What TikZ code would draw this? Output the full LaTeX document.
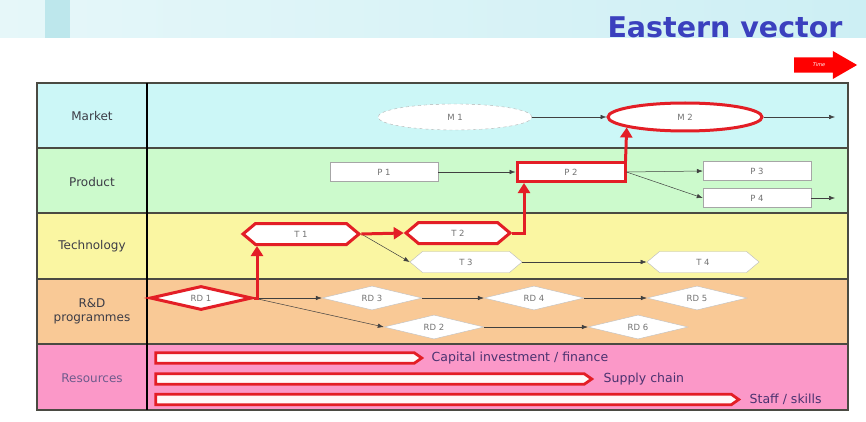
\documentclass[tikz,border=0pt]{standalone}
\usepackage{fontspec}
\setmainfont{DejaVu Sans}
\usetikzlibrary{positioning, arrows.meta, shapes.geometric, shapes.symbols, shapes.arrows}

\definecolor{marketbg}{HTML}{CCF7F7}
\definecolor{productbg}{HTML}{CCFACC}
\definecolor{techbg}{HTML}{FAF6A2}
\definecolor{rdbg}{HTML}{F9C996}
\definecolor{resbg}{HTML}{FB98C8}
\definecolor{hotred}{HTML}{E31E26}
\definecolor{titleblue}{HTML}{3B40BE}
\definecolor{bandcyan}{HTML}{CDEFF4}
\definecolor{stripcyan}{HTML}{BDE7EC}
\definecolor{gridline}{HTML}{4A4A42}
\definecolor{labelgray}{HTML}{3C3C46}
\definecolor{respurple}{HTML}{4A3270}

\begin{document}
\begin{tikzpicture}[x=1pt, y=-1pt,
    every node/.style={font=\fontsize{8.5}{10}\selectfont, text=black!55},
    rowlabel/.style={font=\fontsize{12}{14}\selectfont, text=labelgray, align=center},
    reslabel/.style={font=\fontsize{12.5}{14}\selectfont, text=respurple, anchor=west},
    ovalbox/.style={ellipse, draw=gray!60, fill=white, minimum width=154pt, minimum height=26pt, inner sep=0pt},
    prodbox/.style={rectangle, draw=gray!70, fill=white, minimum width=108pt, minimum height=19pt, inner sep=0pt},
    techbox/.style={signal, signal to=west and east, signal pointer angle=80, draw=gray!55, fill=white, minimum width=112pt, minimum height=21pt, inner sep=0pt},
    rdbox/.style={diamond, aspect=4, draw=gray!50, fill=white, minimum width=100pt, minimum height=24pt, inner sep=0pt},
    hot/.style={draw=hotred, line width=3pt},
    resarrow/.style={signal, signal to=east, signal pointer angle=70, draw=hotred, line width=2.8pt, fill=white!92!pink, minimum height=10.5pt, inner sep=0pt},
    link/.style={draw=black!75, line width=0.5pt, -{Latex[length=6pt, width=4.5pt]}},
    redlink/.style={draw=hotred, line width=3pt, -{Triangle[length=10pt, width=12pt]}}
]
\useasboundingbox (0,0) rectangle (866,422);

% background band and title
\fill[white] (0,0) rectangle (866,422);
\shade[left color=bandcyan!50, right color=bandcyan] (0,0) rectangle (866,38);
\fill[stripcyan] (45,0) rectangle (70,38);
\node[font=\bfseries\fontsize{28.5}{30}\selectfont, text=titleblue, anchor=east] (title) at (846,27) {Eastern vector};

% time arrow
\node[single arrow, fill=red, single arrow tip angle=60, single arrow head extend=6pt,
      minimum height=63pt, minimum width=28pt, inner sep=5pt,
      font=\itshape\fontsize{5}{6}\selectfont, text=white] (time) at (819,65) {Time};

% rows
\fill[marketbg] (37,83) rectangle (848,148);
\fill[productbg] (37,148) rectangle (848,213);
\fill[techbg] (37,213) rectangle (848,279);
\fill[rdbg] (37,279) rectangle (848,344);
\fill[resbg] (37,344) rectangle (848,410);
\draw[gridline, line width=1.5pt] (37,148) -- (848,148) (37,213) -- (848,213)
    (37,279) -- (848,279) (37,344) -- (848,344);
\draw[gridline, line width=1.5pt] (37,83) rectangle (848,410);
\draw[black, line width=1.2pt] (147,83) -- (147,410);

\node[rowlabel] (lblMarket) at (92,116) {Market};
\node[rowlabel] (lblProduct) at (92,182) {Product};
\node[rowlabel] (lblTech) at (92,246) {Technology};
\node[rowlabel] (lblRD) at (92,311) {R\&D\\programmes};
\node[rowlabel, text=respurple!80] (lblRes) at (92,378) {Resources};

% market
\node[ovalbox, dashed] (M1) at (455,117) {M 1};
\node[ovalbox, hot, minimum width=154pt, minimum height=28pt] (M2) at (685,117) {M 2};
\coordinate (mEnd) at (835,117);

% product
\node[prodbox] (P1) at (384,172) {P 1};
\node[prodbox, hot] (P2) at (571,172) {P 2};
\node[prodbox] (P3) at (757,171) {P 3};
\node[prodbox] (P4) at (757,198) {P 4};
\coordinate (pEnd) at (835,198);

% technology
\node[techbox, hot, minimum width=116pt] (T1) at (301,234) {T 1};
\node[techbox, hot, minimum width=104pt] (T2) at (458,233) {T 2};
\node[techbox] (T3) at (466,262) {T 3};
\node[techbox] (T4) at (703,262) {T 4};

% R&D
\node[rdbox, hot, minimum width=102pt] (RD1) at (201,298) {RD 1};
\node[rdbox] (RD3) at (372,298) {RD 3};
\node[rdbox] (RD4) at (534,298) {RD 4};
\node[rdbox] (RD5) at (697,298) {RD 5};
\node[rdbox] (RD2) at (434,327) {RD 2};
\node[rdbox] (RD6) at (638,327) {RD 6};

% resources
\node[resarrow, minimum width=266pt] (resA) at (285,358) {};
\node[resarrow, minimum width=436pt] (resB) at (370,379) {};
\node[resarrow, minimum width=583pt] (resC) at (443.5,399.5) {};
\node[reslabel] (resAlbl) at ([xshift=4pt]resA.east) {Capital investment / finance};
\node[reslabel] (resBlbl) at ([xshift=6pt]resB.east) {Supply chain};
\node[reslabel] (resClbl) at ([xshift=5pt]resC.east) {Staff / skills};

% thin links
\draw[link] (M1.east) -- (M2.west);
\draw[link] (M2.east) -- (mEnd);
\draw[link] (P1.east) -- (P2.west);
\draw[link] (P2.east) -- (P3.west);
\draw[link] (P2.east) -- (P4.west);
\draw[link] (P4.east) -- (pEnd);
\draw[link] (T1.east) -- (T3.west);
\draw[link] (T3.east) -- (T4.west);
\draw[link] (RD1.east) -- (RD3.west);
\draw[link] (RD1.east) -- (RD2.west);
\draw[link] (RD3.east) -- (RD4.west);
\draw[link] (RD4.east) -- (RD5.west);
\draw[link] (RD2.east) -- (RD6.west);

% red path
\draw[redlink] (RD1.east) -| ([xshift=-44pt]T1.south);
\draw[redlink] (T1.east) -- (T2.west);
\draw[redlink] (T2.east) -| ([xshift=-47pt]P2.south);
\draw[redlink, shorten >=-5pt] ([xshift=-1pt]P2.north east) -- (P2.north east |- M2.south);

\end{tikzpicture}
\end{document}
